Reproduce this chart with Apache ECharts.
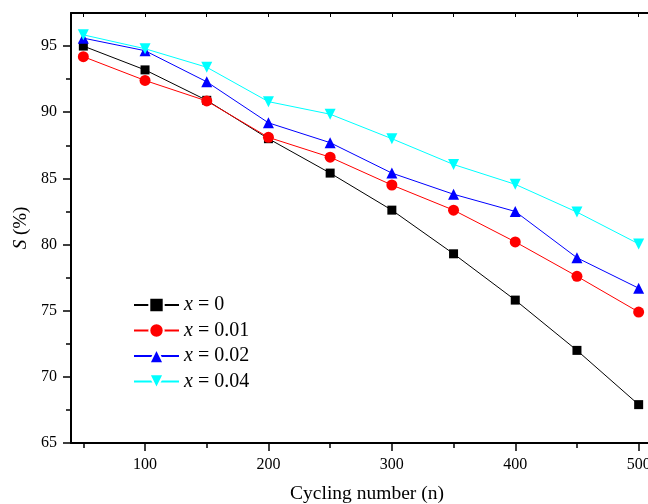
<!DOCTYPE html>
<html><head><meta charset="utf-8">
<script src="https://cdn.jsdelivr.net/npm/echarts@6/dist/echarts.min.js"></script>
<style>html,body{margin:0;padding:0;background:#fff}#c{width:648px;height:504px}</style>
</head><body><div id="c"></div>
<script>
const cycles = [50, 100, 150, 200, 250, 300, 350, 400, 450, 500];
const s_x0   = [95.0, 93.2, 90.9, 88.0, 85.4, 82.6, 79.3, 75.8, 72.0, 67.9];
const s_x001 = [94.2, 92.4, 90.85, 88.1, 86.6, 84.5, 82.6, 80.2, 77.6, 74.9];
const s_x002 = [95.6, 94.65, 92.3, 89.2, 87.7, 85.4, 83.8, 82.5, 79.0, 76.7];
const s_x004 = [95.85, 94.8, 93.4, 90.8, 89.85, 88.0, 86.05, 84.55, 82.45, 80.05];
const seriesNames = ['0', '0.01', '0.02', '0.04'];
const xMajor = [100, 200, 300, 400, 500];
const xMinor = [50, 150, 250, 350, 450];
const xTop = [50, 100, 150, 200, 250, 300, 350, 400, 450, 500];
const yMajor = [65, 70, 75, 80, 85, 90, 95];
const yMinor = [67.5, 72.5, 77.5, 82.5, 87.5, 92.5];

const FONT = 'Liberation Serif';
const pairs = arr => cycles.map((c, i) => [c, arr[i]]);
const styles = [
  {color: '#000000', symbol: 'rect', size: 9, rot: 0},
  {color: '#ff0000', symbol: 'circle', size: 11, rot: 0},
  {color: '#0000ff', symbol: 'triangle', size: 11, rot: 0},
  {color: '#00ffff', symbol: 'triangle', size: 11, rot: 180}
];
const dataSets = [s_x0, s_x001, s_x002, s_x004];

const axisLineStyle = {color: '#000', width: 2};
const chart = echarts.init(document.getElementById('c'), null, {renderer: 'canvas'});
chart.setOption({
  animation: false,
  backgroundColor: '#fff',
  grid: {left: 71, top: 13, bottom: 61, right: -3, containLabel: false, outerBoundsMode: 'none'},
  legend: {
    left: 133, top: 295, orient: 'vertical', padding: 0,
    itemWidth: 45, itemHeight: 18, itemGap: 5.5,
    itemStyle: {borderColor: '#fff', borderWidth: 2},
    data: seriesNames.map(n => 'x = ' + n),
    formatter: name => '{i|x}{n| = ' + name.slice(4) + '}',
    textStyle: {
      fontFamily: FONT, fontSize: 20, color: '#000',
      rich: {
        i: {fontFamily: FONT, fontStyle: 'italic', fontSize: 20, color: '#000'},
        n: {fontFamily: FONT, fontSize: 20, color: '#000'}
      }
    }
  },
  xAxis: [
    {
      type: 'value', position: 'bottom', min: 40, max: 510,
      axisLine: {show: true, onZero: false, lineStyle: axisLineStyle},
      axisTick: {show: true, length: 8, inside: false, customValues: xMajor, lineStyle: {color: '#000', width: 1.5}},
      axisLabel: {show: true, customValues: xMajor, margin: 14, fontFamily: FONT, fontSize: 16, color: '#000'},
      splitLine: {show: false},
      name: 'Cycling number (n)', nameLocation: 'middle', nameGap: 41,
      nameTextStyle: {fontFamily: FONT, fontSize: 19.5, color: '#000', padding: [0, 0, 0, 12]}
    },
    {
      type: 'value', position: 'bottom', min: 40, max: 510,
      axisLine: {show: false, onZero: false},
      axisTick: {show: true, length: 5, customValues: xMinor, lineStyle: {color: '#000', width: 1.5}},
      axisLabel: {show: false},
      splitLine: {show: false}
    },
    {
      type: 'value', position: 'top', min: 40, max: 510,
      axisLine: {show: true, onZero: false, lineStyle: axisLineStyle},
      axisTick: {show: true, inside: true, length: 4, customValues: xTop, lineStyle: {color: '#000', width: 1}},
      axisLabel: {show: false},
      splitLine: {show: false}
    }
  ],
  yAxis: [
    {
      type: 'value', position: 'left', min: 65, max: 97.5,
      axisLine: {show: true, onZero: false, lineStyle: axisLineStyle},
      axisTick: {show: true, length: 8, customValues: yMajor, lineStyle: {color: '#000', width: 1.5}},
      axisLabel: {show: true, customValues: yMajor, margin: 14, fontFamily: FONT, fontSize: 16, color: '#000'},
      splitLine: {show: false},
      name: '{i|S} (%)', nameLocation: 'middle', nameGap: 40, nameRotate: 90,
      nameTextStyle: {fontFamily: FONT, fontSize: 19, color: '#000',
        rich: {i: {fontFamily: FONT, fontStyle: 'italic', fontSize: 19, color: '#000'}}}
    },
    {
      type: 'value', position: 'left', min: 65, max: 97.5,
      axisLine: {show: false, onZero: false},
      axisTick: {show: true, length: 5, customValues: yMinor, lineStyle: {color: '#000', width: 1.5}},
      axisLabel: {show: false},
      splitLine: {show: false}
    }
  ],
  series: dataSets.map((d, i) => ({
    name: 'x = ' + seriesNames[i],
    type: 'line',
    xAxisIndex: 0, yAxisIndex: 0,
    data: pairs(d),
    symbol: styles[i].symbol,
    symbolSize: styles[i].size,
    symbolRotate: styles[i].rot,
    showAllSymbol: true,
    color: styles[i].color,
    lineStyle: {color: styles[i].color, width: 1},
    itemStyle: {color: styles[i].color, borderWidth: 0},
    emphasis: {disabled: true},
    z: 2 + i
  }))
});
</script></body></html>
